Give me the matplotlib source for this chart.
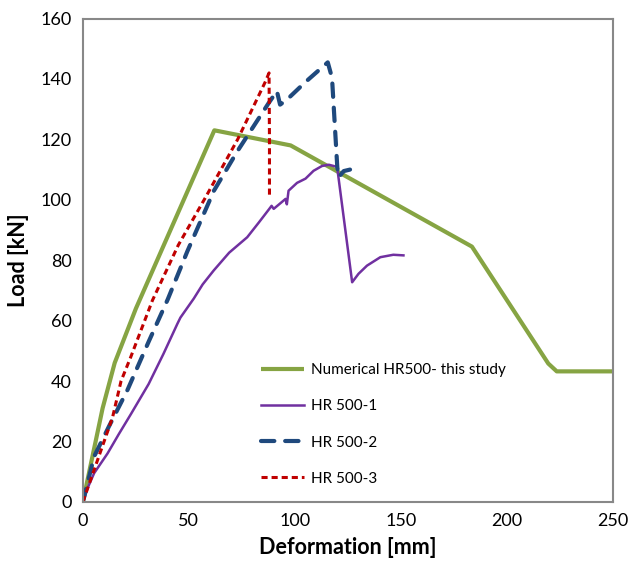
import matplotlib
matplotlib.use("Agg")
import matplotlib.pyplot as plt

plt.rcParams['font.family'] = ['Lato', 'DejaVu Sans']

# Numerical HR500 - this study
num_x = [0, 9.3, 15, 25, 62, 98, 183.5, 219.5, 223.5, 250]
num_y = [0, 31, 46, 64, 123, 118, 84.5, 45.8, 43.2, 43.2]

# HR 500-1
hr1_x = [0, 2.5, 5.3, 11.6, 17, 22.6, 31, 38, 44.6, 46, 52.3, 56.5, 61.7, 69, 77.5, 83, 87.6,
         89, 90, 95.6, 96.2, 97, 101, 105, 108.8, 112.8, 116, 119.9, 127, 130, 134, 140.3,
         146.4, 151.2]
hr1_y = [0, 5, 9.5, 16, 22.5, 29, 39, 49, 59, 61, 67.3, 72, 76.6, 82.5, 87.6, 92.5, 96.7,
         98, 97, 100.3, 98.5, 103, 105.6, 107, 109.6, 111.2, 111.6, 110.9, 72.7, 75.5, 78.2,
         81, 81.8, 81.6]

# HR 500-2
hr2_x = [0, 5.3, 12.3, 21, 31, 40, 49.3, 61.8, 72.8, 87.6, 91.5, 93, 96, 105, 115.5, 117.5,
         120, 120.7, 123, 126]
hr2_y = [0, 15, 25, 37, 53, 67, 83, 103, 116, 132, 136, 131.5, 133, 139, 145.5, 140.4,
         110.7, 107.5, 109.5, 110]

# HR 500-3
hr3_x = [0, 8.5, 14, 18, 22.6, 32.8, 45, 58, 73, 86, 87.8, 88, 88]
hr3_y = [0, 17, 28, 40, 48, 66.7, 85, 101, 120, 139, 142, 120, 101]

fig = plt.figure(figsize=(6.28, 5.62), dpi=100)
ax = fig.add_axes([0.132, 0.107, 0.844, 0.860])

ax.plot(num_x, num_y, color='#86a443', lw=3.0, solid_capstyle='butt',
        label='Numerical HR500- this study')
ax.plot(hr1_x, hr1_y, color='#7030a0', lw=1.8, label='HR 500-1')
ax.plot(hr2_x, hr2_y, color='#1f497d', lw=3.0, dashes=(3.2, 2.6), dash_capstyle='round',
        label='HR 500-2')
ax.plot(hr3_x, hr3_y, color='#c00000', lw=2.2, dashes=(2.0, 1.3),
        label='HR 500-3')

ax.set_xlim(0, 250)
ax.set_ylim(0, 160)
ax.set_xticks([0, 50, 100, 150, 200, 250])
ax.set_yticks(range(0, 161, 20))
ax.tick_params(length=0, labelsize=13, pad=8)
for s in ax.spines.values():
    s.set_color('#888888')
    s.set_linewidth(1.5)

ax.set_xlabel('Deformation [mm]', fontsize=15.5, fontweight='bold', labelpad=6)
ax.set_ylabel('Load [kN]', fontsize=15.5, fontweight='bold', labelpad=8)

ax.legend(loc='lower left', bbox_to_anchor=(0.31, 0.005), frameon=False, fontsize=11,
          handlelength=2.8, handletextpad=0.45, labelspacing=1.45)

fig.savefig('out.png', dpi=100)
